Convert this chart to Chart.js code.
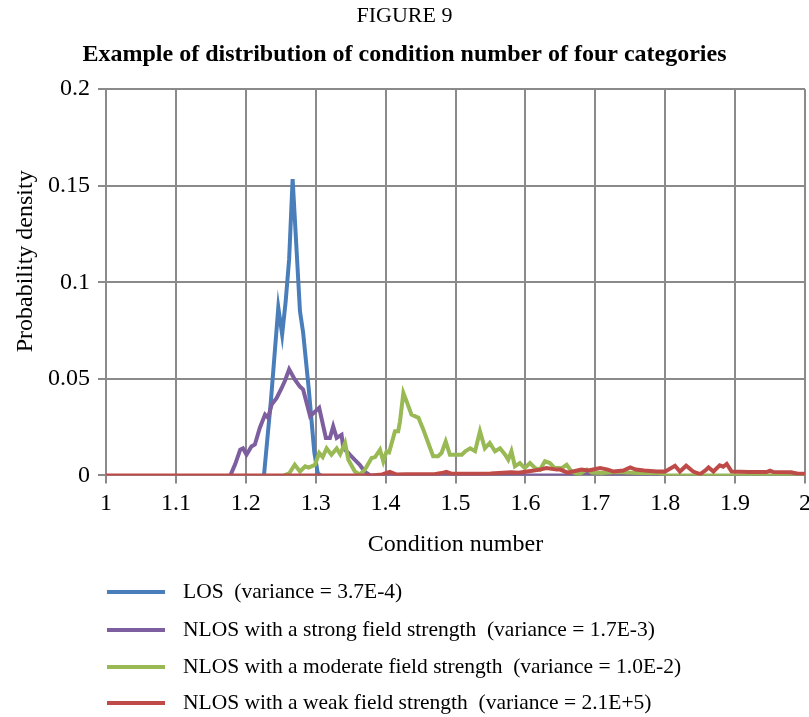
<!DOCTYPE html>
<html>
<head>
<meta charset="utf-8">
<script src="https://cdn.jsdelivr.net/npm/chart.js@4.4.1/dist/chart.umd.min.js"></script>
<style>
    html, body { margin: 0; padding: 0; background: #fff; }
    #wrap { width: 809px; height: 717px; }
</style>
</head>
<body>
<div id="wrap"><canvas id="densityChart" width="809" height="717"></canvas></div>
<script>
// Tick values
const xTicks = [1, 1.1, 1.2, 1.3, 1.4, 1.5, 1.6, 1.7, 1.8, 1.9, 2];
const yTicks = [0, 0.05, 0.1, 0.15, 0.2];

// LOS
const losX = [1.226, 1.236, 1.2465, 1.252, 1.257, 1.262, 1.267, 1.2775, 1.282, 1.29, 1.298, 1.303, 1.307];
const losY = [0, 0.039, 0.087, 0.073, 0.09, 0.112, 0.1535, 0.085, 0.074, 0.045, 0.012, 0.001, 0];

// NLOS strong
const strongX = [1.178, 1.185, 1.192, 1.196, 1.201, 1.208, 1.213, 1.22, 1.2275, 1.232, 1.237, 1.244, 1.251, 1.256, 1.262, 1.27, 1.2775, 1.282, 1.292, 1.305, 1.3146, 1.3203, 1.325, 1.33, 1.337, 1.3395, 1.3467, 1.349, 1.356, 1.363, 1.37, 1.378, 1.67, 1.68, 1.71, 1.72, 1.77, 1.778, 1.79, 1.8];
const strongY = [0, 0.006, 0.0133, 0.014, 0.0107, 0.015, 0.016, 0.0246, 0.0315, 0.0298, 0.0367, 0.040, 0.045, 0.049, 0.0549, 0.0497, 0.046, 0.0445, 0.0306, 0.035, 0.0194, 0.0194, 0.0254, 0.0194, 0.021, 0.014, 0.0116, 0.0107, 0.008, 0.0055, 0.002, 0, 0, 0.0012, 0.0012, 0, 0, 0.0012, 0, 0];

// NLOS moderate
const modX = [1.255, 1.262, 1.27, 1.2775, 1.285, 1.29, 1.299, 1.305, 1.31, 1.3156, 1.3225, 1.33, 1.335, 1.342, 1.3467, 1.356, 1.363, 1.3705, 1.38, 1.385, 1.392, 1.3967, 1.4014, 1.405, 1.4134, 1.418, 1.4206, 1.4254, 1.43, 1.437, 1.447, 1.454, 1.461, 1.468, 1.475, 1.48, 1.486, 1.492, 1.499, 1.509, 1.514, 1.521, 1.528, 1.535, 1.542, 1.549, 1.5565, 1.5637, 1.571, 1.5755, 1.58, 1.585, 1.592, 1.599, 1.6066, 1.614, 1.6209, 1.628, 1.635, 1.642, 1.652, 1.659, 1.666, 1.676, 1.688, 1.695, 1.71, 1.73, 1.76, 1.79, 1.8, 1.85, 1.9, 1.95, 2];
const modY = [0, 0.001, 0.0055, 0.002, 0.0047, 0.004, 0.0055, 0.0116, 0.0095, 0.014, 0.0107, 0.014, 0.011, 0.0168, 0.0081, 0.002, 0.0005, 0.003, 0.009, 0.0095, 0.0133, 0.0073, 0.0125, 0.012, 0.0228, 0.0228, 0.028, 0.0427, 0.0384, 0.0315, 0.0298, 0.0237, 0.0168, 0.0099, 0.0099, 0.0116, 0.0176, 0.0107, 0.0107, 0.0107, 0.0125, 0.014, 0.0125, 0.0228, 0.014, 0.0168, 0.0125, 0.014, 0.0107, 0.0081, 0.0125, 0.0047, 0.0064, 0.0038, 0.0064, 0.0038, 0.003, 0.0073, 0.0064, 0.0038, 0.0038, 0.0055, 0.0021, 0.0004, 0.003, 0.0015, 0.0012, 0.0018, 0.0012, 0.0012, 0, 0, 0, 0, 0];

// NLOS weak
const weakX = [1, 1.38, 1.395, 1.406, 1.415, 1.43, 1.47, 1.48, 1.487, 1.495, 1.52, 1.55, 1.58, 1.59, 1.605, 1.621, 1.63, 1.645, 1.65, 1.66, 1.68, 1.69, 1.707, 1.718, 1.726, 1.74, 1.75, 1.758, 1.77, 1.788, 1.8, 1.814, 1.821, 1.83, 1.84, 1.85, 1.857, 1.862, 1.869, 1.878, 1.883, 1.888, 1.895, 1.92, 1.945, 1.95, 1.955, 1.98, 1.99, 2];
const weakY = [0, 0, 0.0005, 0.0018, 0.0005, 0.0006, 0.0006, 0.0012, 0.0018, 0.0008, 0.0008, 0.001, 0.0016, 0.0014, 0.0022, 0.003, 0.0038, 0.003, 0.003, 0.0014, 0.003, 0.0025, 0.0038, 0.003, 0.002, 0.0025, 0.0041, 0.003, 0.0025, 0.002, 0.002, 0.005, 0.002, 0.005, 0.002, 0.0007, 0.0024, 0.0041, 0.002, 0.0052, 0.0045, 0.0059, 0.002, 0.0017, 0.0017, 0.0024, 0.0017, 0.0016, 0.0009, 0.0009];

const seriesLabels = [
    'LOS  (variance = 3.7E-4)',
    'NLOS with a strong field strength  (variance = 1.7E-3)',
    'NLOS with a moderate field strength  (variance = 1.0E-2)',
    'NLOS with a weak field strength  (variance = 2.1E+5)'
];
const seriesColors = ['#4a7ebb', '#7d5fa0', '#98b954', '#be4b48'];

const serif = "'Liberation Serif', 'Times New Roman', serif";
const gridColor = '#8a8a8a';

const toPoints = (xs, ys) => xs.map((x, i) => ({ x: x, y: ys[i] }));

// legend drawn as a vertical list under the axis title
const listLegend = {
    id: 'listLegend',
    afterDraw(chart) {
        const ctx = chart.ctx;
        const rows = [592, 630, 667, 703];
        ctx.save();
        ctx.font = '21.5px ' + serif;
        ctx.textBaseline = 'middle';
        ctx.textAlign = 'left';
        seriesLabels.forEach((label, i) => {
            ctx.strokeStyle = seriesColors[i];
            ctx.lineWidth = 4;
            ctx.beginPath();
            ctx.moveTo(107, rows[i]);
            ctx.lineTo(165, rows[i]);
            ctx.stroke();
            ctx.fillStyle = '#000';
            ctx.fillText(label, 183, rows[i]);
        });
        ctx.restore();
    }
};

const datasets = [
    [losX, losY], [strongX, strongY], [modX, modY], [weakX, weakY]
].map(([xs, ys], i) => ({
    label: seriesLabels[i],
    data: toPoints(xs, ys),
    borderColor: seriesColors[i],
    backgroundColor: seriesColors[i],
    borderWidth: 4,
    pointRadius: 0,
    tension: 0,
    order: 4 - i
}));

new Chart(document.getElementById('densityChart'), {
    type: 'line',
    data: { datasets: datasets },
    options: {
        responsive: false,
        animation: false,
        layout: { padding: { left: 0, right: 0, top: 0, bottom: 153 } },
        plugins: {
            legend: { display: false },
            tooltip: { enabled: false },
            title: {
                display: true,
                text: 'FIGURE 9',
                color: '#000',
                font: { family: serif, size: 22, weight: 'normal', lineHeight: 1.2 },
                padding: { top: 3, bottom: 4 }
            },
            subtitle: {
                display: true,
                text: 'Example of distribution of condition number of four categories',
                color: '#000',
                font: { family: serif, size: 24, weight: 'bold', lineHeight: 1.2 },
                padding: { top: 7, bottom: 20 }
            }
        },
        scales: {
            x: {
                type: 'linear',
                min: 1,
                max: 2,
                afterBuildTicks: s => { s.ticks = xTicks.map(v => ({ value: v })); },
                afterFit: s => { s.paddingRight = 4; },
                grid: { color: gridColor, lineWidth: 2, tickLength: 8 },
                border: { color: gridColor, width: 2 },
                ticks: {
                    color: '#000',
                    padding: 6,
                    maxRotation: 0,
                    font: { family: serif, size: 24 },
                    callback: v => String(v)
                },
                title: {
                    display: true,
                    text: 'Condition number',
                    color: '#000',
                    font: { family: serif, size: 24 },
                    padding: { top: 6, bottom: 5 }
                }
            },
            y: {
                min: 0,
                max: 0.2,
                afterBuildTicks: s => { s.ticks = yTicks.map(v => ({ value: v })); },
                afterFit: s => { s.width = 106; },
                grid: { color: gridColor, lineWidth: 2, tickLength: 8 },
                border: { color: gridColor, width: 2 },
                ticks: {
                    color: '#000',
                    padding: 8,
                    font: { family: serif, size: 24 },
                    callback: v => String(v)
                },
                title: {
                    display: true,
                    // leading spaces shift the centred text up, as in the original
                    text: '       Probability density',
                    color: '#000',
                    font: { family: serif, size: 24 },
                    padding: { top: 11, bottom: 8 }
                }
            }
        }
    },
    plugins: [listLegend]
});
</script>
</body>
</html>
